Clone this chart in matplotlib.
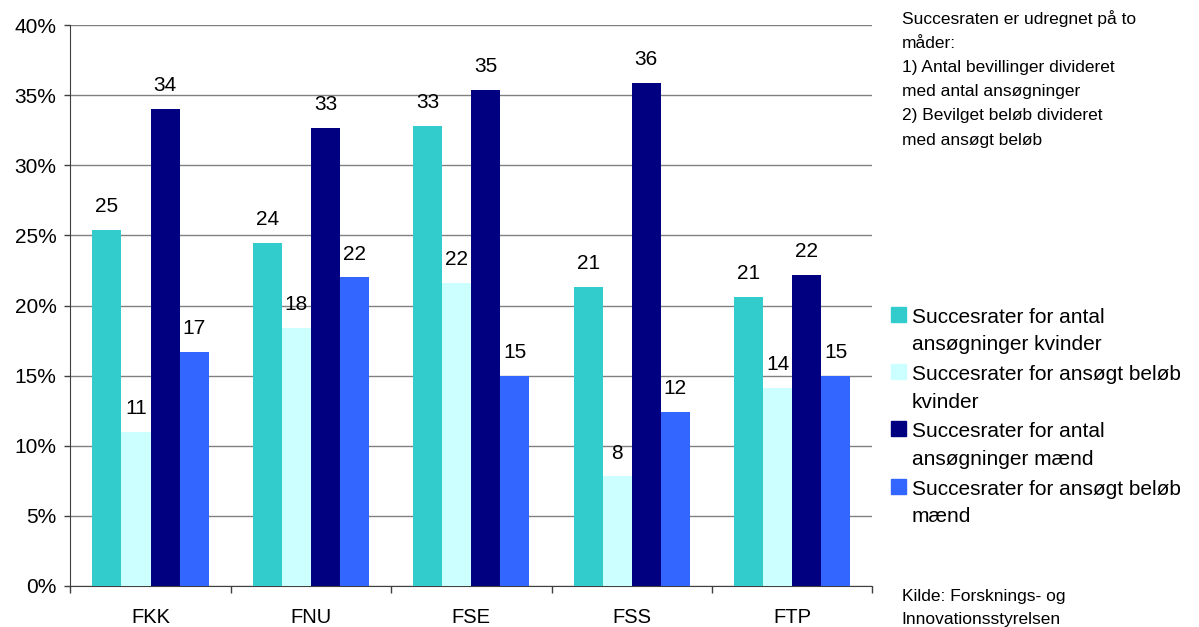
import numpy as np
from matplotlib import pyplot as plt
from matplotlib.patches import Rectangle
from matplotlib.ticker import FuncFormatter

plt.rcParams['font.family'] = ['Liberation Sans', 'DejaVu Sans']

categories = ["FKK", "FNU", "FSE", "FSS", "FTP"]
antal_kvinder = [25.4, 24.45, 32.8, 21.3, 20.6]
belob_kvinder = [11.0, 18.4, 21.6, 7.8, 14.1]
antal_maend = [34.0, 32.7, 35.4, 35.9, 22.2]
belob_maend = [16.7, 22.0, 15.0, 12.4, 15.0]

series = [antal_kvinder, belob_kvinder, antal_maend, belob_maend]
colors = ["#33CCCC", "#CCFFFF", "#000080", "#3366FF"]
legend_lines = [["Succesrater for antal", "ansøgninger kvinder"],
                ["Succesrater for ansøgt beløb", "kvinder"],
                ["Succesrater for antal", "ansøgninger mænd"],
                ["Succesrater for ansøgt beløb", "mænd"]]
note_lines = ["Succesraten er udregnet på to", "måder:",
              "1) Antal bevillinger divideret", "med antal ansøgninger",
              "2) Bevilget beløb divideret", "med ansøgt beløb"]
source_lines = ["Kilde: Forsknings- og", "Innovationsstyrelsen"]

W, H = 1199, 627
def fx(px):
    return px / W
def fy(py):
    return 1 - py / H

fig = plt.figure(figsize=(W / 100, H / 100), dpi=100)
ax = fig.add_axes([fx(70.3), fy(585.7), fx(872.3) - fx(70.3), fy(25.3) - fy(585.7)])

x = np.arange(len(categories))
bw = 0.181
for i, vals in enumerate(series):
    bars = ax.bar(x + (i - 1.5) * bw, vals, bw, color=colors[i], zorder=3)
    ax.bar_label(bars, labels=[f"{v:.0f}" for v in vals], padding=10, fontsize=15)

ax.set_xlim(-0.5, len(categories) - 0.5)
ax.set_ylim(0, 40)
ax.set_yticks(np.arange(0, 41, 5))
ax.yaxis.set_major_formatter(FuncFormatter(lambda v, p: f"{v:.0f}%"))
ax.grid(axis='y', color='#808080', linewidth=1.0, zorder=0)
ax.set_xticks(x)
ax.set_xticklabels(categories)
ax.set_xticks(np.arange(-0.5, len(categories), 1), minor=True)
ax.tick_params(axis='x', which='major', length=0, pad=16, labelsize=14.5)
ax.tick_params(axis='x', which='minor', length=5, width=1, color='#404040')
ax.tick_params(axis='y', length=4, width=1, color='#404040', pad=6, labelsize=15)
for s in ['top', 'right']:
    ax.spines[s].set_visible(False)
ax.spines['left'].set_color('#404040')
ax.spines['bottom'].set_color('#404040')

# legend drawn by hand so the squares sit on the first line
for i, lines in enumerate(legend_lines):
    base = 322.7 + i * 57.3
    fig.patches.append(Rectangle((fx(891), fy(base - 1)), fx(15), fy(0) - fy(15),
                                 transform=fig.transFigure, color=colors[i]))
    for j, line in enumerate(lines):
        fig.text(fx(912), fy(base + j * 27.8), line, fontsize=15, va='baseline', ha='left')

for j, line in enumerate(note_lines):
    fig.text(fx(901.5), fy(24 + j * 24.1), line, fontsize=12.5, va='baseline', ha='left')

for j, line in enumerate(source_lines):
    fig.text(fx(901.5), fy(600.7 + j * 23), line, fontsize=12.5, va='baseline', ha='left')

plt.savefig("out.png", dpi=100)
